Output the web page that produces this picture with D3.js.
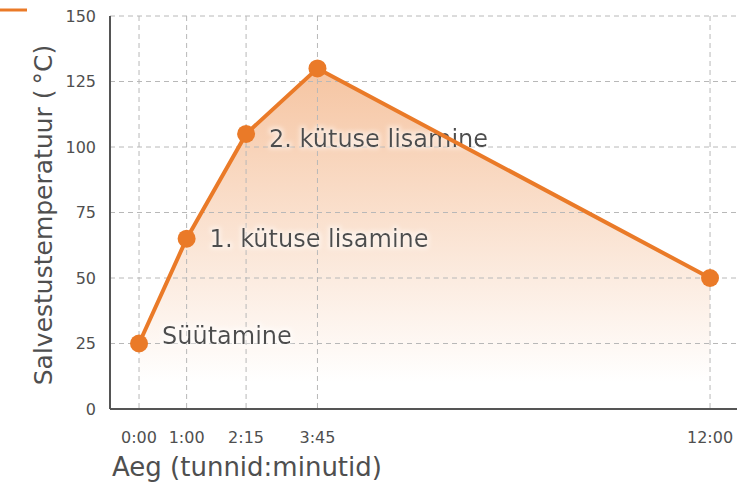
<html>
<head>
<script src="https://d3js.org/d3.v7.min.js"></script>
<style>
  body { margin: 0; background: #fff; }
  text { font-family: "DejaVu Sans", sans-serif; fill: #4f4f4f; }
</style>
</head>
<body>
<div id="chart"></div>
<script>
// minutes since start
var times = [0, 60, 135, 225, 720];
var timeLabels = ["0:00", "1:00", "2:15", "3:45", "12:00"];
var temps = [25, 65, 105, 130, 50];
var notes = ["Süütamine", "1. kütuse lisamine", "2. kütuse lisamine", "", ""];
var yTicks = [0, 25, 50, 75, 100, 125, 150];

var W = 737, H = 486;
var svg = d3.select("#chart").append("svg").attr("width", W).attr("height", H);

var x = d3.scaleLinear().domain([-36.6, 754]).range([110, 737]);
var y = d3.scaleLinear().domain([0, 150]).range([409, 16]);

var data = times.map(function (t, i) { return { t: t, v: temps[i], note: notes[i] }; });

var defs = svg.append("defs");
var grad = defs.append("linearGradient").attr("id", "fillGrad")
  .attr("gradientUnits", "userSpaceOnUse")
  .attr("x1", 0).attr("x2", 0).attr("y1", y(130)).attr("y2", y(10));
grad.append("stop").attr("offset", 0).attr("stop-color", "#ec8a44").attr("stop-opacity", 0.5);
grad.append("stop").attr("offset", 1).attr("stop-color", "#ec8a44").attr("stop-opacity", 0);

var glow = defs.append("filter").attr("id", "glow")
  .attr("x", "-10%").attr("y", "-30%").attr("width", "120%").attr("height", "160%");
glow.append("feMorphology").attr("in", "SourceAlpha").attr("operator", "dilate").attr("radius", 2).attr("result", "d");
glow.append("feGaussianBlur").attr("in", "d").attr("stdDeviation", 2).attr("result", "b");
glow.append("feFlood").attr("flood-color", "#fff").attr("flood-opacity", 0.5);
glow.append("feComposite").attr("in2", "b").attr("operator", "in").attr("result", "w");
var m = glow.append("feMerge");
m.append("feMergeNode").attr("in", "w");
m.append("feMergeNode").attr("in", "SourceGraphic");

// area
var area = d3.area().x(d => x(d.t)).y0(y(0)).y1(d => y(d.v));
svg.append("path").datum(data).attr("d", area).attr("fill", "url(#fillGrad)");

// grid
svg.append("g").selectAll("line").data(yTicks.slice(1)).enter().append("line")
  .attr("x1", 110).attr("x2", W).attr("y1", d => y(d)).attr("y2", d => y(d))
  .attr("stroke", "#b8b8b8").attr("stroke-dasharray", "5,4");
svg.append("g").selectAll("line").data(times).enter().append("line")
  .attr("x1", d => x(d)).attr("x2", d => x(d)).attr("y1", y(150)).attr("y2", y(0))
  .attr("stroke", "#b8b8b8").attr("stroke-dasharray", "5,4");

// axes
svg.append("line").attr("x1", 110).attr("x2", 110).attr("y1", y(150)).attr("y2", y(0))
  .attr("stroke", "#555").attr("stroke-width", 2);
svg.append("line").attr("x1", 110).attr("x2", W).attr("y1", y(0)).attr("y2", y(0))
  .attr("stroke", "#555").attr("stroke-width", 2);

svg.append("g").selectAll("text").data(yTicks).enter().append("text")
  .attr("x", 96).attr("y", d => y(d)).attr("dy", "0.35em")
  .attr("text-anchor", "end").style("font-size", "16px").text(d => d);

svg.append("g").selectAll("text").data(times).enter().append("text")
  .attr("x", d => x(d)).attr("y", 443)
  .attr("text-anchor", "middle").style("font-size", "16px").text((d, i) => timeLabels[i]);

svg.append("text").attr("x", 112).attr("y", 476).style("font-size", "26px")
  .text("Aeg (tunnid:minutid)");
var yt = svg.append("text").attr("transform", "translate(52,215) rotate(-90)")
  .attr("text-anchor", "middle").style("font-size", "25px");
yt.append("tspan").text("Salvestustemperatuur (");
yt.append("tspan").attr("dx", 5).text("°C)");

// annotations (label baseline shift below each point)
var noteShift = [0, 8, 13];
svg.append("g").selectAll("text").data(data.filter(d => d.note)).enter().append("text")
  .attr("x", d => x(d.t) + 23).attr("y", (d, i) => y(d.v) + noteShift[i])
  .attr("filter", "url(#glow)")
  .style("font-size", "24px").style("fill", "#4d4d4d").text(d => d.note);

// line + markers
var line = d3.line().x(d => x(d.t)).y(d => y(d.v));
svg.append("path").datum(data).attr("d", line).attr("fill", "none")
  .attr("stroke", "#ea7a28").attr("stroke-width", 4).attr("stroke-linejoin", "round");
svg.append("g").selectAll("circle").data(data).enter().append("circle")
  .attr("cx", d => x(d.t)).attr("cy", d => y(d.v)).attr("r", 9).attr("fill", "#ea7a28");

// legend stub
svg.append("line").attr("x1", 0).attr("x2", 27).attr("y1", 10).attr("y2", 10)
  .attr("stroke", "#ea7a28").attr("stroke-width", 3);
</script>
</body>
</html>
